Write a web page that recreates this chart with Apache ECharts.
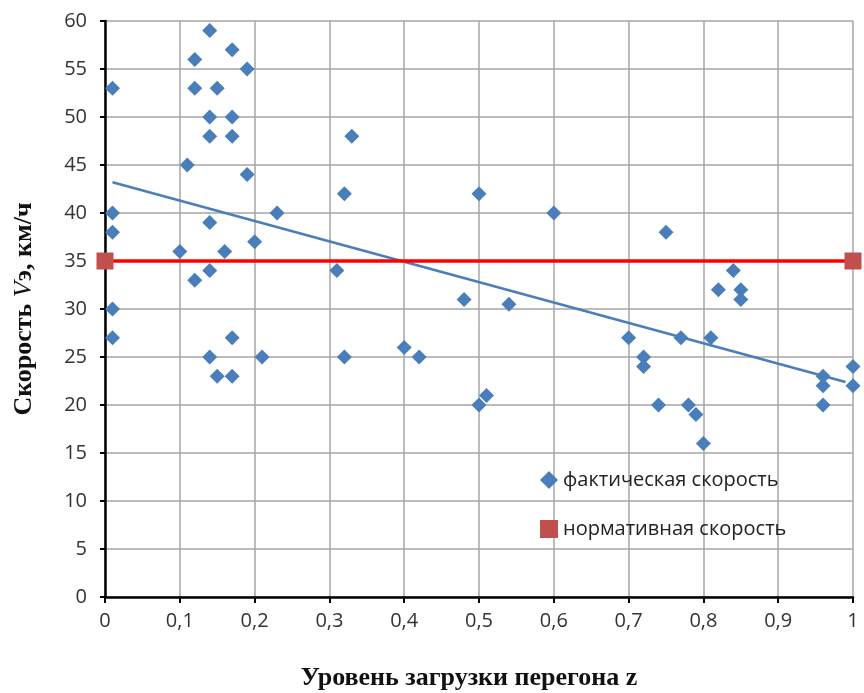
<!DOCTYPE html>
<html>
<head>
<meta charset="utf-8">
<script src="https://cdn.jsdelivr.net/npm/echarts@6/dist/echarts.min.js"></script>
<style>
html, body { margin: 0; padding: 0; background: #fff; }
#chart { width: 864px; height: 693px; }
</style>
</head>
<body>
<div id="chart"></div>
<script>
// фактическая скорость
var factX = [0.01, 0.01, 0.01, 0.01, 0.01, 0.10, 0.11, 0.12, 0.12, 0.12,
	0.14, 0.14, 0.14, 0.14, 0.14, 0.14, 0.15, 0.15, 0.16, 0.17,
	0.17, 0.17, 0.17, 0.17, 0.19, 0.19, 0.20, 0.21, 0.23, 0.31,
	0.32, 0.32, 0.33, 0.40, 0.42, 0.48, 0.50, 0.50, 0.51, 0.54,
	0.60, 0.70, 0.72, 0.72, 0.74, 0.75, 0.77, 0.78, 0.79, 0.80,
	0.81, 0.82, 0.84, 0.85, 0.85, 0.96, 0.96, 0.96, 1.00, 1.00];
var factY = [53, 40, 38, 30, 27, 36, 45, 56, 53, 33,
	59, 50, 48, 39, 34, 25, 53, 23, 36, 57,
	50, 48, 27, 23, 55, 44, 37, 25, 40, 34,
	42, 25, 48, 26, 25, 31, 42, 20, 21, 30.5,
	40, 27, 25, 24, 20, 38, 27, 20, 19, 16,
	27, 32, 34, 32, 31, 23, 22, 20, 24, 22];
// нормативная скорость
var normX = [0, 1];
var normY = [35, 35];
// линия тренда
var trendX = [0.01, 0.99];
var trendY = [43.2, 22.4];

var yTicks = [0, 5, 10, 15, 20, 25, 30, 35, 40, 45, 50, 55, 60];

function pairs(xs, ys) {
	var out = [];
	for (var i = 0; i < xs.length; i++) out.push([xs[i], ys[i]]);
	return out;
}

var myChart = echarts.init(document.getElementById('chart'));
var labelFont = 'Open Sans';
var option = {
	animation: false,
	grid: {
		left: 105,
		right: 11,
		top: 21,
		bottom: 96,
		containLabel: false,
		outerBoundsMode: 'none'
	},
	legend: {
		orient: 'vertical',
		left: 535,
		top: 465,
		itemGap: 29,
		itemWidth: 18,
		itemHeight: 18,
		textStyle: {
			fontFamily: labelFont,
			fontSize: 20,
			color: '#222'
		},
		data: [
			{ name: 'фактическая скорость', icon: 'diamond', itemStyle: { color: '#4a7ebb' } },
			{ name: 'нормативная скорость', icon: 'rect', itemStyle: { color: '#c0504d' } }
		]
	},
	xAxis: {
		type: 'value',
		min: 0,
		max: 1,
		interval: 0.1,
		name: 'Уровень загрузки перегона z',
		nameLocation: 'middle',
		nameGap: 68,
		nameTextStyle: {
			fontFamily: 'Liberation Serif',
			fontWeight: 'bold',
			fontSize: 26,
			color: '#111',
			padding: [0, 20, 0, 0]
		},
		axisLine: { show: true, lineStyle: { color: '#000', width: 2.5 } },
		axisTick: { show: true, length: 6, lineStyle: { color: '#000', width: 2 } },
		axisLabel: {
			fontFamily: labelFont,
			fontSize: 20,
			color: '#333',
			margin: 14,
			formatter: function (v) {
				return String(Math.round(v * 10) / 10).replace('.', ',');
			}
		},
		splitLine: { show: true, lineStyle: { color: '#a6a6a6', width: 1.5 } }
	},
	yAxis: {
		type: 'value',
		min: 0,
		max: 60,
		interval: 5,
		name: '{a|Скорость }{i|V}{a|э, км/ч}',
		nameLocation: 'middle',
		nameGap: 68,
		nameTextStyle: {
			rich: {
				a: { fontFamily: 'Liberation Serif', fontWeight: 'bold', fontSize: 26, color: '#111' },
				i: { fontFamily: 'Liberation Serif', fontStyle: 'italic', fontSize: 26, color: '#111' }
			}
		},
		axisLine: { show: true, lineStyle: { color: '#000', width: 2.5 } },
		axisTick: { show: true, length: 5, lineStyle: { color: '#000', width: 2 } },
		axisLabel: {
			fontFamily: labelFont,
			fontSize: 20,
			color: '#333',
			margin: 18,
			formatter: function (v) {
				return yTicks.indexOf(v) >= 0 ? String(v) : '';
			}
		},
		splitLine: { show: true, lineStyle: { color: '#a6a6a6', width: 1.5 } }
	},
	series: [{
		name: 'линия тренда',
		type: 'line',
		data: pairs(trendX, trendY),
		symbol: 'none',
		lineStyle: { color: '#4a7ebb', width: 2.5 },
		z: 3
	}, {
		name: 'нормативная скорость',
		type: 'line',
		data: pairs(normX, normY),
		symbol: 'rect',
		symbolSize: 17,
		clip: false,
		itemStyle: { color: '#c0504d', opacity: 1 },
		lineStyle: { color: '#ff0000', width: 3.5 },
		z: 4
	}, {
		name: 'фактическая скорость',
		type: 'scatter',
		data: pairs(factX, factY),
		symbol: 'diamond',
		symbolSize: 15,
		clip: false,
		itemStyle: { color: '#4a7ebb', opacity: 1 },
		z: 5
	}]
};
myChart.setOption(option);
window.addEventListener('resize', function () {
	myChart.resize();
});
</script>
</body>
</html>
